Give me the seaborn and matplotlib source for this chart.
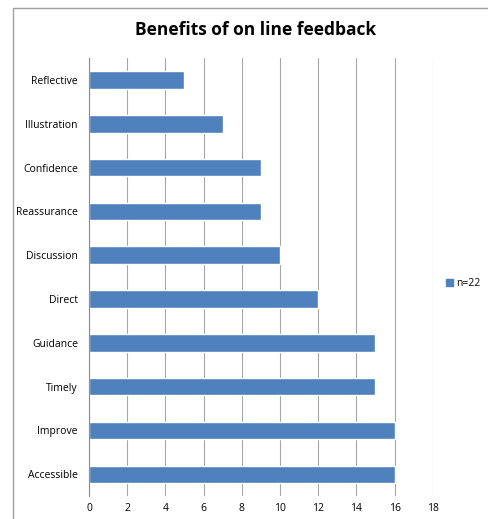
import numpy as np
import pandas as pd
import seaborn as sns
import matplotlib
matplotlib.use('agg')
import matplotlib.pyplot as plt
from matplotlib.patches import Rectangle

categories = ['Reflective', 'Illustration', 'Confidence', 'Reassurance', 'Discussion',
              'Direct', 'Guidance', 'Timely', 'Improve', 'Accessible']
counts = [5, 7, 9, 9, 10, 12, 15, 15, 16, 16]
series_label = 'n=22'
x_ticks = [0, 2, 4, 6, 8, 10, 12, 14, 16, 18]

if __name__ == '__main__':
    sns.set_style('white')
    plt.rcParams['font.family'] = ['Open Sans', 'DejaVu Sans']
    plt.rcParams['text.color'] = 'black'
    plt.rcParams['xtick.color'] = 'black'
    plt.rcParams['ytick.color'] = 'black'

    fig = plt.figure(figsize=(4.89, 5.19), dpi=100)
    ax = fig.add_axes([0.182, 0.044, 0.703, 0.844])

    df = pd.DataFrame({'category': categories, 'count': counts})
    sns.barplot(data=df, x='count', y='category', color='#4F81BD', saturation=1,
                width=0.4, label=series_label, ax=ax, legend=False)

    ax.set_xlim(0, 18)
    ax.set_xticks(x_ticks)
    ax.set_xticklabels([str(t) for t in x_ticks], fontsize=7.5)
    ax.set_xlabel('')
    ax.set_ylabel('')
    ax.tick_params(axis='x', length=0, pad=5)
    ax.tick_params(axis='y', which='major', length=0, labelsize=7.5, pad=8)
    ax.set_yticks(np.arange(-0.5, len(categories)), minor=True)
    ax.tick_params(axis='y', which='minor', length=4, color='#8c8c8c', direction='out')
    ax.xaxis.grid(True, color='#a6a6a6', linewidth=0.8)
    ax.set_axisbelow(True)
    for side in ['top', 'right', 'bottom']:
        ax.spines[side].set_visible(False)
    ax.spines['left'].set_color('#8c8c8c')
    ax.spines['left'].set_linewidth(0.8)

    fig.text(0.522, 0.943, 'Benefits of on line feedback', ha='center', va='center',
             fontsize=12.5, fontweight='bold')

    handles = [Rectangle((0, 0), 1, 1, color='#4F81BD')]
    fig.legend(handles, [series_label], loc='center left', bbox_to_anchor=(0.912, 0.453),
               frameon=False, fontsize=7.5, handlelength=0.7, handleheight=0.7,
               handletextpad=0.3, borderaxespad=0, borderpad=0)

    frame = Rectangle((0.027, -0.1), 1.2, 1.085, transform=fig.transFigure,
                      fill=False, edgecolor='#a0a0a0', linewidth=1.0)
    fig.patches.append(frame)

    fig.savefig('out.png', dpi=100)
    plt.close('all')
